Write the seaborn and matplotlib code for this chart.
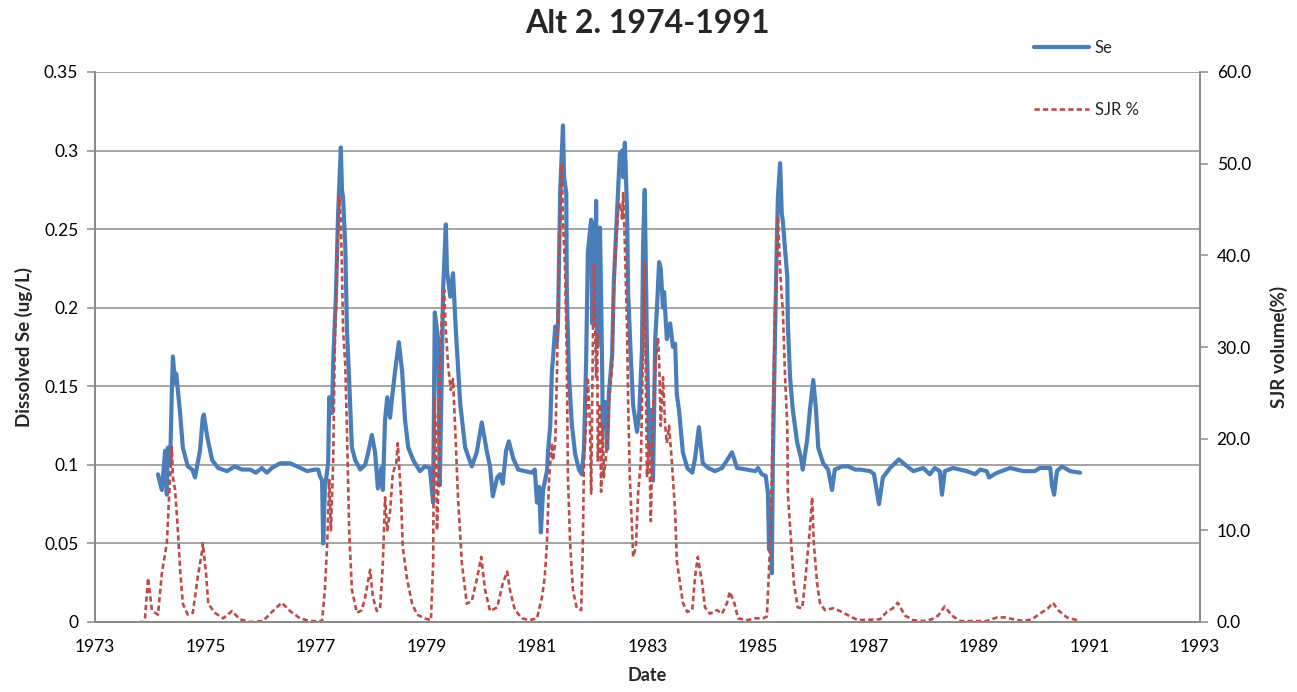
import matplotlib
matplotlib.use("Agg")
import matplotlib.pyplot as plt
from matplotlib.ticker import FixedLocator, FuncFormatter
import seaborn as sns
import pandas as pd

# Dissolved selenium (ug/L), decimal year
se_year = [
    1974.14, 1974.21, 1974.27, 1974.30, 1974.32, 1974.36, 1974.39, 1974.41, 1974.45, 1974.47,
    1974.54, 1974.59, 1974.68, 1974.76, 1974.81, 1974.90, 1974.95, 1974.97, 1975.03, 1975.12,
    1975.23, 1975.39, 1975.53, 1975.66, 1975.81, 1975.91, 1976.02, 1976.11, 1976.20, 1976.35,
    1976.53, 1976.66, 1976.84, 1976.98, 1977.04, 1977.07, 1977.11, 1977.13, 1977.16, 1977.22,
    1977.24, 1977.29, 1977.31, 1977.36, 1977.40, 1977.45, 1977.47, 1977.49, 1977.53, 1977.56,
    1977.60, 1977.65, 1977.71, 1977.80, 1977.89, 1977.94, 1978.01, 1978.07, 1978.12, 1978.18,
    1978.21, 1978.25, 1978.29, 1978.34, 1978.39, 1978.45, 1978.50, 1978.56, 1978.61, 1978.67,
    1978.76, 1978.88, 1978.97, 1979.06, 1979.12, 1979.15, 1979.21, 1979.24, 1979.28, 1979.30,
    1979.35, 1979.37, 1979.43, 1979.48, 1979.53, 1979.61, 1979.70, 1979.82, 1979.91, 1980.00,
    1980.10, 1980.15, 1980.20, 1980.28, 1980.33, 1980.38, 1980.44, 1980.49, 1980.57, 1980.66,
    1980.78, 1980.91, 1980.96, 1981.00, 1981.04, 1981.07, 1981.11, 1981.18, 1981.20, 1981.24,
    1981.27, 1981.29, 1981.33, 1981.36, 1981.38, 1981.42, 1981.47, 1981.49, 1981.53, 1981.54,
    1981.58, 1981.63, 1981.69, 1981.76, 1981.81, 1981.85, 1981.89, 1981.92, 1981.98, 1982.00,
    1982.01, 1982.05, 1982.07, 1982.09, 1982.10, 1982.14, 1982.18, 1982.19, 1982.23, 1982.27,
    1982.30, 1982.36, 1982.39, 1982.45, 1982.50, 1982.54, 1982.56, 1982.59, 1982.63, 1982.65,
    1982.70, 1982.74, 1982.81, 1982.85, 1982.90, 1982.92, 1982.95, 1982.99, 1983.03, 1983.06,
    1983.10, 1983.14, 1983.17, 1983.21, 1983.24, 1983.28, 1983.30, 1983.35, 1983.41, 1983.46,
    1983.50, 1983.53, 1983.57, 1983.64, 1983.72, 1983.81, 1983.86, 1983.93, 1984.00, 1984.10,
    1984.22, 1984.35, 1984.44, 1984.53, 1984.62, 1984.80, 1984.95, 1985.00, 1985.07, 1985.14,
    1985.18, 1985.20, 1985.24, 1985.25, 1985.27, 1985.31, 1985.34, 1985.36, 1985.40, 1985.43,
    1985.45, 1985.49, 1985.53, 1985.54, 1985.58, 1985.63, 1985.71, 1985.78, 1985.81, 1985.89,
    1985.94, 1986.00, 1986.05, 1986.09, 1986.18, 1986.27, 1986.34, 1986.39, 1986.52, 1986.63,
    1986.76, 1986.85, 1987.03, 1987.10, 1987.19, 1987.26, 1987.39, 1987.55, 1987.70, 1987.81,
    1987.99, 1988.11, 1988.20, 1988.29, 1988.33, 1988.38, 1988.53, 1988.78, 1988.93, 1989.02,
    1989.14, 1989.18, 1989.33, 1989.56, 1989.80, 1990.01, 1990.10, 1990.23, 1990.29, 1990.32,
    1990.36, 1990.41, 1990.50, 1990.65, 1990.83,
]
se_value = [
    0.094, 0.084, 0.109, 0.081, 0.111, 0.100, 0.146, 0.169, 0.152, 0.158,
    0.133, 0.111, 0.099, 0.097, 0.092, 0.109, 0.130, 0.132, 0.118, 0.103,
    0.098, 0.096, 0.099, 0.097, 0.097, 0.095, 0.098, 0.095, 0.098, 0.101,
    0.101, 0.099, 0.096, 0.097, 0.097, 0.093, 0.090, 0.050, 0.085, 0.101,
    0.143, 0.133, 0.165, 0.207, 0.260, 0.302, 0.275, 0.270, 0.239, 0.186,
    0.154, 0.111, 0.103, 0.097, 0.100, 0.107, 0.119, 0.108, 0.085, 0.098,
    0.084, 0.129, 0.143, 0.130, 0.147, 0.165, 0.178, 0.159, 0.129, 0.111,
    0.103, 0.096, 0.099, 0.098, 0.076, 0.197, 0.180, 0.087, 0.165, 0.211,
    0.253, 0.224, 0.207, 0.222, 0.186, 0.139, 0.111, 0.099, 0.108, 0.127,
    0.107, 0.099, 0.080, 0.092, 0.094, 0.088, 0.109, 0.115, 0.104, 0.097,
    0.096, 0.095, 0.097, 0.076, 0.086, 0.057, 0.084, 0.096, 0.109, 0.125,
    0.160, 0.168, 0.188, 0.178, 0.190, 0.275, 0.316, 0.283, 0.273, 0.209,
    0.156, 0.126, 0.107, 0.097, 0.094, 0.110, 0.167, 0.235, 0.256, 0.190,
    0.254, 0.190, 0.268, 0.175, 0.230, 0.251, 0.160, 0.124, 0.140, 0.110,
    0.145, 0.170, 0.216, 0.262, 0.298, 0.300, 0.283, 0.305, 0.262, 0.209,
    0.167, 0.138, 0.121, 0.133, 0.173, 0.240, 0.275, 0.175, 0.110, 0.135,
    0.090, 0.180, 0.199, 0.229, 0.225, 0.200, 0.210, 0.180, 0.190, 0.175,
    0.177, 0.145, 0.135, 0.108, 0.098, 0.095, 0.104, 0.124, 0.101, 0.098,
    0.096, 0.098, 0.103, 0.108, 0.098, 0.097, 0.096, 0.098, 0.094, 0.093,
    0.082, 0.046, 0.070, 0.031, 0.105, 0.186, 0.241, 0.270, 0.292, 0.260,
    0.255, 0.237, 0.220, 0.190, 0.156, 0.135, 0.114, 0.104, 0.097, 0.116,
    0.135, 0.154, 0.135, 0.111, 0.101, 0.097, 0.084, 0.097, 0.099, 0.099,
    0.097, 0.097, 0.096, 0.094, 0.075, 0.092, 0.098, 0.1035, 0.099, 0.096,
    0.098, 0.094, 0.098, 0.096, 0.081, 0.096, 0.098, 0.096, 0.094, 0.097,
    0.096, 0.092, 0.095, 0.098, 0.096, 0.096, 0.098, 0.098, 0.098, 0.087,
    0.081, 0.096, 0.099, 0.096, 0.095,
]

# San Joaquin River share of volume (%), decimal year
sjr_year = [
    1973.81, 1973.90, 1973.96, 1974.03, 1974.09, 1974.14, 1974.21, 1974.27, 1974.30, 1974.34,
    1974.39, 1974.41, 1974.45, 1974.50, 1974.54, 1974.59, 1974.68, 1974.77, 1974.86, 1974.94,
    1974.95, 1975.01, 1975.05, 1975.17, 1975.32, 1975.48, 1975.62, 1975.81, 1976.04, 1976.22,
    1976.38, 1976.53, 1976.71, 1976.89, 1977.07, 1977.11, 1977.16, 1977.20, 1977.24, 1977.27,
    1977.31, 1977.34, 1977.38, 1977.42, 1977.45, 1977.47, 1977.49, 1977.53, 1977.56, 1977.60,
    1977.65, 1977.74, 1977.83, 1977.89, 1977.98, 1978.03, 1978.10, 1978.16, 1978.21, 1978.25,
    1978.29, 1978.34, 1978.39, 1978.45, 1978.48, 1978.54, 1978.57, 1978.65, 1978.74, 1978.83,
    1978.97, 1979.08, 1979.12, 1979.14, 1979.17, 1979.19, 1979.23, 1979.24, 1979.28, 1979.32,
    1979.35, 1979.39, 1979.44, 1979.48, 1979.52, 1979.57, 1979.64, 1979.73, 1979.82, 1979.91,
    1979.99, 1980.06, 1980.15, 1980.28, 1980.38, 1980.46, 1980.51, 1980.60, 1980.73, 1980.87,
    1981.00, 1981.09, 1981.14, 1981.18, 1981.22, 1981.27, 1981.29, 1981.33, 1981.36, 1981.38,
    1981.42, 1981.45, 1981.47, 1981.51, 1981.54, 1981.56, 1981.60, 1981.65, 1981.72, 1981.80,
    1981.83, 1981.85, 1981.90, 1981.92, 1981.96, 1981.98, 1982.01, 1982.03, 1982.07, 1982.09,
    1982.10, 1982.14, 1982.16, 1982.19, 1982.21, 1982.27, 1982.30, 1982.36, 1982.39, 1982.43,
    1982.47, 1982.50, 1982.54, 1982.56, 1982.59, 1982.63, 1982.65, 1982.68, 1982.72, 1982.74,
    1982.79, 1982.83, 1982.88, 1982.92, 1982.94, 1982.97, 1982.99, 1983.03, 1983.06, 1983.10,
    1983.15, 1983.19, 1983.21, 1983.24, 1983.28, 1983.32, 1983.35, 1983.39, 1983.44, 1983.50,
    1983.53, 1983.59, 1983.64, 1983.72, 1983.81, 1983.86, 1983.91, 1983.99, 1984.04, 1984.13,
    1984.26, 1984.35, 1984.44, 1984.49, 1984.57, 1984.64, 1984.80, 1984.95, 1985.09, 1985.16,
    1985.18, 1985.22, 1985.25, 1985.27, 1985.31, 1985.34, 1985.36, 1985.40, 1985.43, 1985.45,
    1985.49, 1985.53, 1985.54, 1985.60, 1985.65, 1985.72, 1985.80, 1985.85, 1985.90, 1985.94,
    1985.98, 1986.01, 1986.07, 1986.12, 1986.21, 1986.36, 1986.52, 1986.67, 1986.81, 1987.21,
    1987.33, 1987.44, 1987.53, 1987.66, 1987.81, 1987.99, 1988.15, 1988.26, 1988.38, 1988.51,
    1988.66, 1988.89, 1989.14, 1989.33, 1989.47, 1989.62, 1989.80, 1989.96, 1990.10, 1990.25,
    1990.34, 1990.43, 1990.59, 1990.83,
]
sjr_value = [
    0.0, 0.0, 4.8, 1.3, 1.0, 0.8, 5.3, 7.5, 8.6, 13.6,
    19.1, 15.8, 14.4, 10.0, 5.7, 2.0, 0.8, 1.0, 4.9, 7.8,
    8.6, 5.3, 2.0, 1.0, 0.4, 1.2, 0.3, 0.0, 0.1, 1.2,
    2.1, 1.2, 0.4, 0.1, 0.1, 0.1, 3.5, 8.2, 15.5, 10.0,
    17.3, 30.0, 39.0, 46.4, 43.5, 38.4, 31.8, 28.0, 21.0, 10.0,
    3.5, 1.0, 1.3, 2.7, 5.7, 2.7, 1.2, 1.5, 6.4, 13.6,
    10.0, 12.0, 16.2, 17.3, 19.5, 13.6, 8.2, 4.6, 2.0, 0.8,
    0.4, 0.2, 6.4, 24.5, 21.0, 10.0, 17.3, 28.0, 33.7, 36.2,
    31.8, 28.0, 25.3, 26.5, 21.0, 13.6, 6.4, 2.0, 2.3, 4.6,
    7.1, 3.5, 1.2, 1.6, 4.2, 5.5, 3.5, 1.3, 0.4, 0.2,
    0.4, 2.7, 4.9, 8.6, 15.8, 19.5, 17.6, 19.5, 26.7, 34.0,
    45.0, 50.0, 43.6, 38.2, 28.6, 15.8, 8.6, 3.5, 1.5, 1.3,
    8.6, 17.6, 23.0, 26.7, 21.4, 14.0, 30.0, 39.2, 26.7, 31.6,
    17.6, 23.8, 14.2, 21.4, 15.8, 19.5, 23.8, 28.0, 35.9, 41.3,
    45.0, 45.7, 44.0, 46.8, 41.3, 32.0, 23.8, 15.8, 10.2, 7.1,
    8.2, 14.0, 17.6, 30.0, 39.2, 26.7, 15.8, 19.5, 11.0, 23.0,
    28.6, 31.0, 28.6, 21.4, 26.7, 21.4, 19.5, 21.4, 17.6, 12.0,
    6.7, 4.2, 2.1, 1.1, 1.3, 4.9, 7.1, 4.2, 1.6, 0.9,
    1.3, 0.9, 2.1, 3.3, 2.1, 0.4, 0.2, 0.4, 0.4, 0.6,
    3.1, 8.6, 15.8, 23.0, 34.0, 39.5, 44.2, 38.5, 35.5, 34.0,
    26.7, 21.4, 14.0, 8.6, 4.2, 1.6, 1.5, 4.2, 7.5, 10.2,
    13.6, 8.6, 4.2, 2.1, 1.3, 1.5, 1.1, 0.6, 0.2, 0.3,
    1.1, 1.5, 2.1, 0.7, 0.2, 0.1, 0.3, 0.7, 1.7, 0.7,
    0.1, 0.1, 0.1, 0.5, 0.5, 0.3, 0.1, 0.3, 0.9, 1.5,
    2.1, 1.3, 0.5, 0.1,
]

x_ticks = list(range(1973, 1994, 2))
se_ticks = [0, 0.05, 0.1, 0.15, 0.2, 0.25, 0.3, 0.35]
sjr_ticks = [0, 10, 20, 30, 40, 50, 60]

title = "Alt 2. 1974-1991"
se_label = "Se"
sjr_label = "SJR %"

se_df = pd.DataFrame({"Date": se_year, "Se": se_value})
sjr_df = pd.DataFrame({"Date": sjr_year, "SJR": sjr_value})

sns.set_style("white")
plt.rcParams["font.family"] = ["Lato", "DejaVu Sans"]

BLUE = "#4A7EBB"
RED = "#BE4B48"
GRID = "#8C8C8C"

fig = plt.figure(figsize=(12.97, 6.92), dpi=100)
ax = fig.add_axes([95 / 1297, 70 / 692, 1105 / 1297, 550 / 692])

sns.lineplot(data=se_df, x="Date", y="Se", ax=ax, color=BLUE, linewidth=3.0,
             estimator=None, sort=False, label=se_label, legend=False)

ax2 = ax.twinx()
sns.lineplot(data=sjr_df, x="Date", y="SJR", ax=ax2, color=RED, linewidth=1.9,
             estimator=None, sort=False, label=sjr_label, legend=False)
ax2.lines[0].set_linestyle((0, (2.0, 1.2)))

ax.set_xlim(1973, 1993)
ax.set_ylim(0, 0.35)
ax2.set_ylim(0, 60)

ax.xaxis.set_major_locator(FixedLocator(x_ticks))
ax.xaxis.set_major_formatter(FuncFormatter(lambda v, p: f"{int(round(v))}"))
ax.yaxis.set_major_locator(FixedLocator(se_ticks))
ax.yaxis.set_major_formatter(FuncFormatter(lambda v, p: f"{v:g}"))
ax2.yaxis.set_major_locator(FixedLocator(sjr_ticks))
ax2.yaxis.set_major_formatter(FuncFormatter(lambda v, p: f"{v:.1f}"))

ax.grid(False)
ax2.grid(False)
ax.yaxis.grid(True, color=GRID, linewidth=1.1)
ax.set_axisbelow(True)

for a in (ax, ax2):
    a.spines["top"].set_visible(False)
    for side in ("left", "right", "bottom"):
        a.spines[side].set_color(GRID)
        a.spines[side].set_linewidth(1.4)
    a.tick_params(axis="both", which="major", direction="out", length=6, width=1.1,
                  color=GRID, labelsize=12.5, labelcolor="black", pad=6)

ax.set_xlabel("Date", fontsize=13, fontweight="bold", labelpad=9)
ax.set_ylabel("Dissolved Se (ug/L)", fontsize=13.5, fontweight="bold", labelpad=8)
ax2.set_ylabel("SJR volume(%)", fontsize=13.5, fontweight="bold", labelpad=14)

fig.suptitle(title, x=647 / 1297, y=1 - 9 / 692, va="top", fontsize=23, fontweight="bold")

handles = [ax.lines[0], ax2.lines[0]]
fig.legend(handles, [se_label, sjr_label], loc="upper left",
           bbox_to_anchor=(1034 / 1297, 1 - 40 / 692), frameon=False,
           fontsize=12, handlelength=3.3, handletextpad=0.35, labelspacing=2.75,
           borderpad=0, borderaxespad=0)

fig.savefig("out.png", dpi=100)
